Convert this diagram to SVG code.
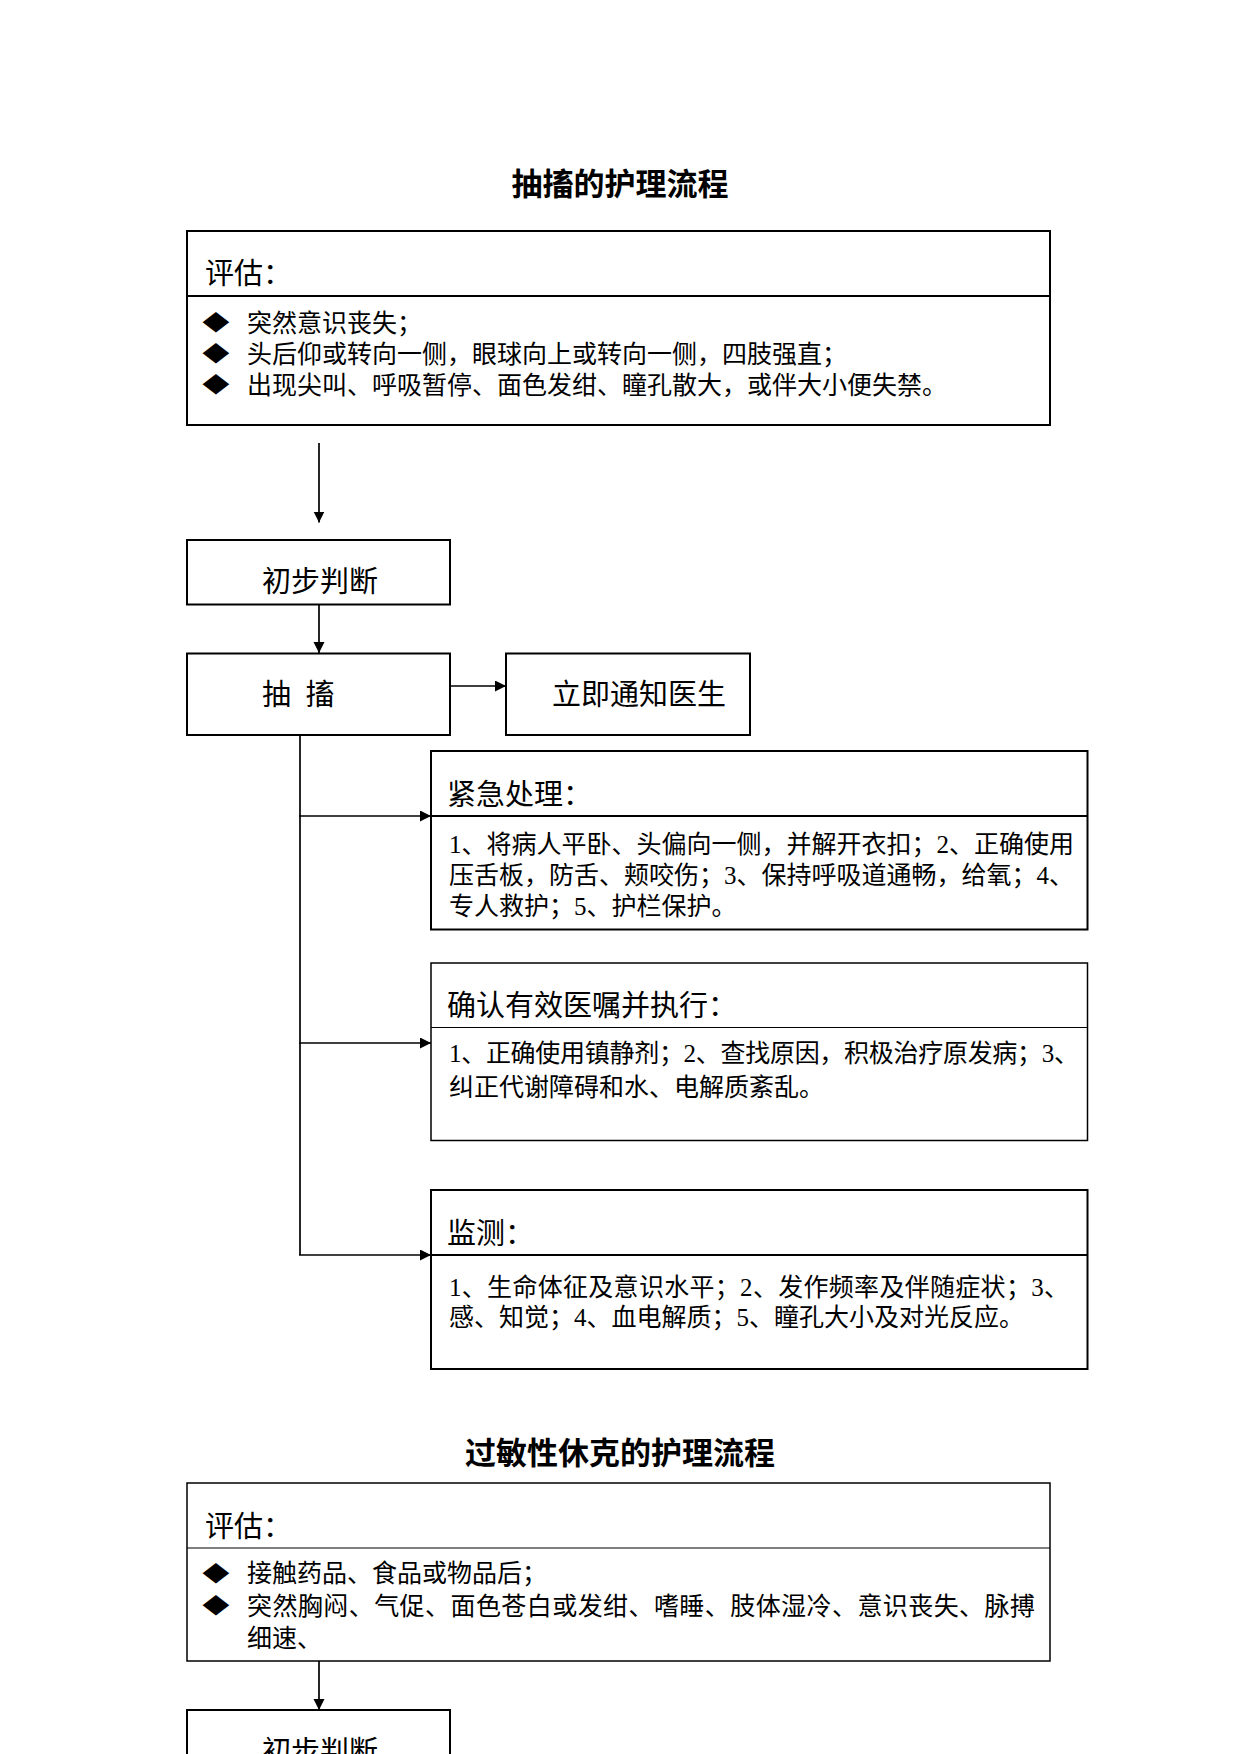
<svg xmlns="http://www.w3.org/2000/svg" width="1241" height="1754" viewBox="0 0 1241 1754">
<defs>
<marker id="arr" markerUnits="userSpaceOnUse" markerWidth="12" markerHeight="12" refX="11" refY="5.5" orient="auto">
<path d="M0,0 L11,5.5 L0,11 z" fill="#000"/>
</marker>
<style>
text{font-family:"Liberation Serif","Noto Sans CJK SC",serif;fill:#000}
.title{font-family:"Noto Sans CJK SC",sans-serif;font-size:31px;font-weight:700;text-anchor:middle}
.hd{font-size:29px}
.bd{font-size:25px}
.bul{font-family:"Noto Sans CJK SC",sans-serif;font-size:21px;text-anchor:middle}
.box{fill:#fff;stroke:#000;stroke-width:2}
.thin{fill:#fff;stroke:#000;stroke-width:1.5}
.div{stroke:#000;stroke-width:2}
.divt{stroke:#000;stroke-width:1.2}
.con{stroke:#000;stroke-width:1.7;fill:none}
</style>
</defs>
<rect width="1241" height="1754" fill="#fff"/>

<g id="title1"><text class="title" x="620" y="195">抽搐的护理流程</text></g>

<g id="assess1">
<rect class="box" x="187" y="231" width="863" height="194"/>
<line class="div" x1="187" y1="296" x2="1050" y2="296"/>
<text class="hd" x="205" y="284">评估：</text>
<text class="bul" transform="translate(216,330) scale(1.3,1)">◆</text>
<text class="bd" x="247" y="331.5">突然意识丧失；</text>
<text class="bul" transform="translate(216,361) scale(1.3,1)">◆</text>
<text class="bd" x="247" y="362.5">头后仰或转向一侧，眼球向上或转向一侧，四肢强直；</text>
<text class="bul" transform="translate(216,392) scale(1.3,1)">◆</text>
<text class="bd" x="247" y="393.5">出现尖叫、呼吸暂停、面色发绀、瞳孔散大，或伴大小便失禁。</text>
</g>

<g id="judge1">
<rect class="box" x="187" y="540" width="263" height="64.5"/>
<text class="hd" x="262" y="591.5">初步判断</text>
</g>

<g id="seizure">
<rect class="box" x="187" y="653.5" width="263" height="81.5"/>
<text class="hd" x="262" y="705">抽 <tspan x="305.5">搐</tspan></text>
</g>

<g id="notify">
<rect class="box" x="506" y="653.5" width="244" height="81.5"/>
<text class="hd" x="552" y="705">立即通知医生</text>
</g>

<g id="emergency">
<rect class="box" x="431" y="751" width="656.5" height="178.5"/>
<line class="div" x1="431" y1="816" x2="1087.5" y2="816"/>
<text class="hd" x="447" y="804.5">紧急处理：</text>
<text class="bd" x="449" y="852.5">1、将病人平卧、头偏向一侧，并解开衣扣；2、正确使用</text>
<text class="bd" x="449" y="883.5">压舌板，防舌、颊咬伤；3、保持呼吸道通畅，给氧；4、</text>
<text class="bd" x="449" y="914.5">专人救护；5、护栏保护。</text>
</g>

<g id="orders">
<rect class="thin" x="431" y="963" width="656.5" height="177.5"/>
<line class="divt" x1="431" y1="1027.5" x2="1087.5" y2="1027.5"/>
<text class="hd" x="447" y="1016">确认有效医嘱并执行：</text>
<text class="bd" x="449" y="1062" textLength="630" lengthAdjust="spacing">1、正确使用镇静剂；2、查找原因，积极治疗原发病；3、</text>
<text class="bd" x="449" y="1096">纠正代谢障碍和水、电解质紊乱。</text>
</g>

<g id="monitor">
<rect class="box" x="431" y="1190" width="656.5" height="179"/>
<line class="div" x1="431" y1="1255" x2="1087.5" y2="1255"/>
<text class="hd" x="447" y="1243.5">监测：</text>
<text class="bd" x="449" y="1296" textLength="620" lengthAdjust="spacing">1、生命体征及意识水平；2、发作频率及伴随症状；3、</text>
<text class="bd" x="449" y="1326">感、知觉；4、血电解质；5、瞳孔大小及对光反应。</text>
</g>

<g id="title2"><text class="title" x="620" y="1463.5">过敏性休克的护理流程</text></g>

<g id="assess2">
<rect class="thin" x="187" y="1483" width="863" height="178"/>
<line class="divt" x1="187" y1="1548" x2="1050" y2="1548"/>
<text class="hd" x="205" y="1537">评估：</text>
<text class="bul" transform="translate(216,1580.5) scale(1.3,1)">◆</text>
<text class="bd" x="247" y="1582">接触药品、食品或物品后；</text>
<text class="bul" transform="translate(216,1613) scale(1.3,1)">◆</text>
<text class="bd" x="247" y="1614.5" textLength="788" lengthAdjust="spacing">突然胸闷、气促、面色苍白或发绀、嗜睡、肢体湿冷、意识丧失、脉搏</text>
<text class="bd" x="247" y="1646.5">细速、</text>
</g>

<g id="judge2">
<rect class="box" x="187" y="1710" width="263" height="65"/>
<text class="hd" x="262" y="1761.5">初步判断</text>
</g>

<g id="connectors">
<line class="con" x1="319" y1="443" x2="319" y2="522.5" marker-end="url(#arr)"/>
<line class="con" x1="319" y1="604.5" x2="319" y2="653" marker-end="url(#arr)"/>
<line class="con" x1="450" y1="686" x2="506" y2="686" marker-end="url(#arr)"/>
<line class="con" x1="300" y1="735" x2="300" y2="1255"/>
<line class="con" x1="299" y1="816" x2="431" y2="816" marker-end="url(#arr)"/>
<line class="con" x1="299" y1="1043" x2="431" y2="1043" marker-end="url(#arr)"/>
<line class="con" x1="299" y1="1255" x2="431" y2="1255" marker-end="url(#arr)"/>
<line class="con" x1="319" y1="1661" x2="319" y2="1710" marker-end="url(#arr)"/>
</g>
</svg>
